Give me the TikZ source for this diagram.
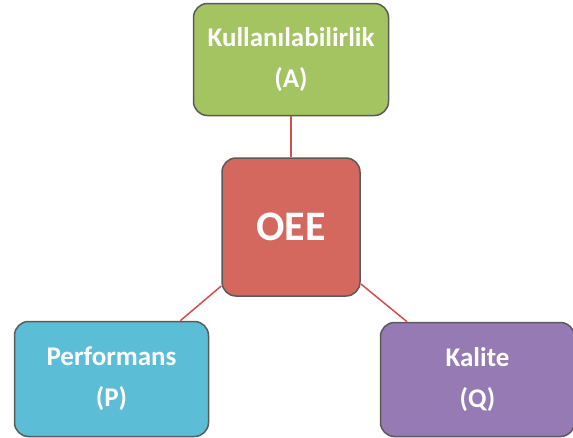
\documentclass[tikz,border=0pt]{standalone}
\usepackage{fontspec}
\setmainfont{Carlito}
\usepackage{xcolor}
\usetikzlibrary{positioning}
\definecolor{availgreen}{HTML}{A3C461}
\definecolor{oeered}{HTML}{D4685F}
\definecolor{perfblue}{HTML}{5BBDD6}
\definecolor{qualpurple}{HTML}{957AB4}
\definecolor{boxedge}{HTML}{5A5A5A}
\definecolor{linkred}{HTML}{D0504D}
\tikzstyle{factor} = [rectangle, rounded corners=14pt, draw=boxedge, line width=1.5pt, text=white, font=\bfseries\fontsize{27}{41}\selectfont, align=center, inner sep=0pt]
\tikzstyle{link} = [draw=linkred, line width=1.5pt]

\begin{document}
\begin{tikzpicture}[x=1pt, y=1pt, node distance=40pt]
  \useasboundingbox (0,0) rectangle (573,-437);

  % Center node
  \node (oee) [factor, fill=oeered, minimum width=138pt, minimum height=138pt, font=\bfseries\fontsize{42}{50}\selectfont] at (291,-227) {OEE};

  % Factor nodes around OEE
  \node (avail) [factor, fill=availgreen, minimum width=195pt, minimum height=112pt, above=41pt of oee] {Kullanılabilirlik\\(A)};
  \node (perf) [factor, fill=perfblue, minimum width=194pt, minimum height=115pt, below left=24pt and 12pt of oee] {Performans\\(P)};
  \node (qual) [factor, fill=qualpurple, minimum width=194pt, minimum height=114pt, below right=25pt and 19pt of oee] {Kalite\\(Q)};

  % Links to OEE
  \draw [link] (avail) -- (oee);
  \draw [link] (oee) -- (perf);
  \draw [link] (oee) -- (qual);

\end{tikzpicture}
\end{document}
